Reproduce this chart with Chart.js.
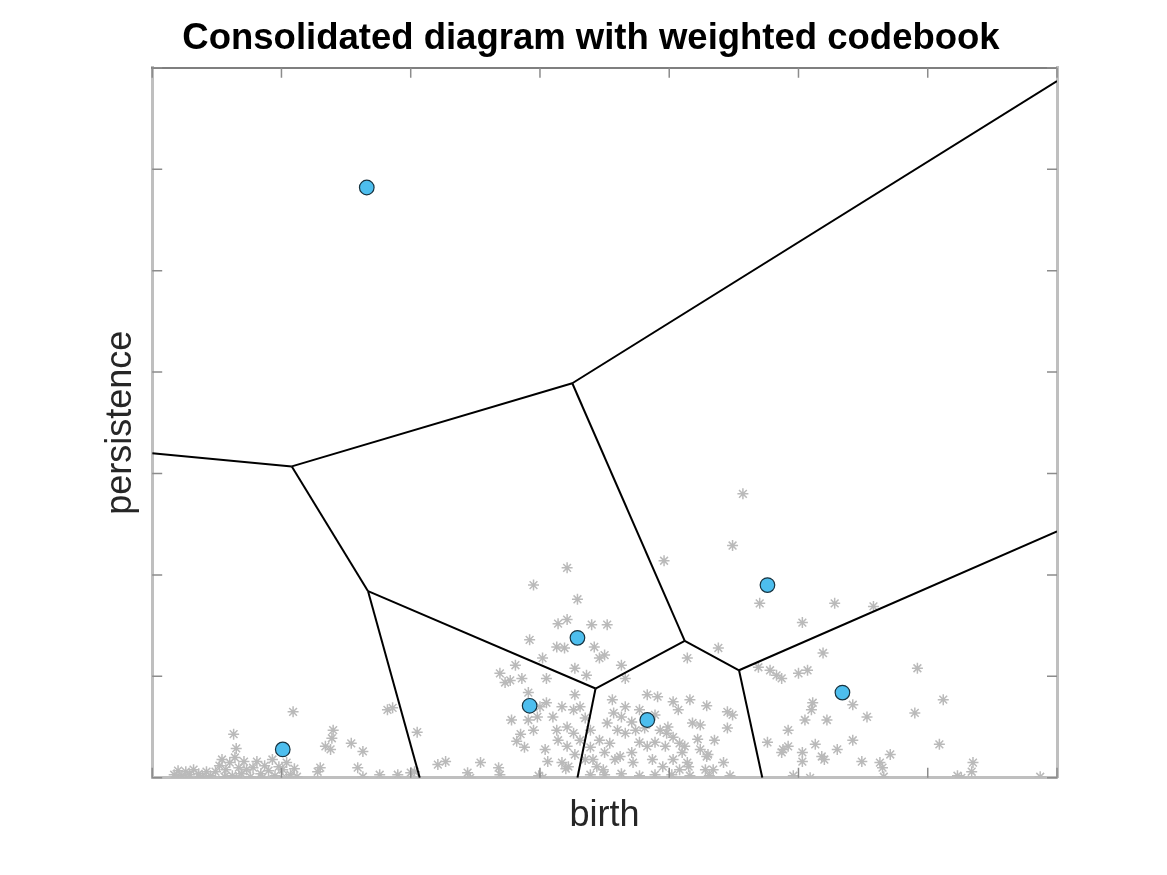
<!DOCTYPE html>
<html>
<head>
<meta charset="utf-8">
<script src="https://cdn.jsdelivr.net/npm/chart.js@4.4.1/dist/chart.umd.min.js"></script>
<style>
  html, body { margin: 0; padding: 0; background: #ffffff; }
  canvas { display: block; }
</style>
</head>
<body>
<canvas id="chart0" width="1167" height="875"></canvas>
<script>
// persistence diagram (grey asterisks)
const starBirth =
[
  0.17, 0.20, 0.23, 0.26, 0.29, 0.32, 0.36, 0.39, 0.42, 0.45, 0.19, 0.28, 0.37,
  0.49, 0.52, 0.54, 0.57, 0.60, 0.62, 0.64, 0.67, 0.69, 0.71, 0.73, 0.76, 0.56, 0.65,
  0.78, 0.81, 0.84, 0.87, 0.90, 0.93, 0.95, 0.98, 1.01, 1.04, 1.07, 1.10, 1.12, 0.85, 1.04,
  0.63, 0.65, 1.09,
  1.40, 1.39, 1.34, 1.38, 1.54, 1.63, 1.30, 1.28, 1.59, 1.63, 1.82, 1.86, 2.05, 1.76, 1.90, 2.00, 2.03, 2.21,
  2.27, 2.54, 2.68, 2.44, 2.99, 2.69, 2.46, 3.02, 3.20,
  3.21, 2.95, 3.29, 3.14, 3.21, 3.40, 3.52, 2.92, 3.13, 3.19, 3.42, 3.02, 3.46, 3.50, 3.63, 2.81,
  2.69, 2.73, 2.77, 2.86, 3.05, 3.27, 3.36, 3.66, 3.83, 3.91, 4.03, 4.14, 4.38, 4.29, 4.45, 4.49,
  4.24, 4.45, 4.22, 2.78, 3.00, 3.05, 2.85, 2.82, 2.88, 3.04, 3.13, 3.21, 3.26, 3.31, 3.10, 3.26,
  3.21, 2.91, 2.91, 2.98, 2.95, 3.27, 3.17,
  3.57, 3.63, 3.66, 3.52, 3.60, 3.46, 3.54, 3.50, 3.41, 3.44, 3.49, 3.62, 3.71, 3.72, 3.77, 3.83,
  3.87, 3.95, 4.03, 3.98, 4.03, 4.08, 4.14, 4.08, 4.29, 4.34, 4.42, 4.18, 3.71, 3.66, 3.74, 3.89,
  3.97, 3.99, 3.35, 3.58, 3.17, 3.22,
  3.35, 3.39, 3.31, 3.39, 3.14, 3.27, 3.06, 3.56, 3.77, 3.89, 3.93, 3.81, 4.16, 4.35, 4.24,
  3.39, 3.50, 3.63, 3.77, 3.89, 4.02, 4.16, 4.31, 4.47,
  3.96, 4.57, 4.49, 4.07, 4.12, 4.10, 4.30, 4.28, 4.15, 4.76,
  4.70, 5.28, 5.58, 5.03, 5.19, 4.69, 4.78, 4.83, 4.87, 5.00, 5.07, 5.92, 5.42, 5.53, 5.90, 6.12,
  5.11, 5.10, 5.05, 5.22, 4.92, 4.88, 4.92, 4.87, 5.03, 5.03, 5.13, 5.18, 5.30, 5.42, 5.49, 5.63,
  5.65, 5.71, 6.09, 6.35, 6.34, 6.23, 6.87, 4.96, 5.09, 5.20, 5.66, 6.26
];
const starPersistence =
[
  0.03, 0.07, 0.02, 0.06, 0.03, 0.08, 0.04, 0.01, 0.06, 0.02, 0.00, 0.00, 0.00,
  0.06, 0.12, 0.18, 0.08, 0.15, 0.02, 0.20, 0.10, 0.04, 0.16, 0.08, 0.01, 0.01, 0.00,
  0.10, 0.16, 0.04, 0.12, 0.07, 0.18, 0.02, 0.11, 0.08, 0.15, 0.03, 0.09, 0.01, 0.00, 0.00,
  0.43, 0.29, 0.65,
  0.47, 0.39, 0.31, 0.28, 0.34, 0.26, 0.10, 0.06, 0.10, 0.01, 0.67, 0.69, 0.45, 0.03, 0.03, 0.05, 0.06, 0.13,
  0.16, 0.15, 0.10, 0.05, 0.02, 0.03, 0.00, 0.00, 0.09,
  2.07, 1.90, 1.76, 1.52, 1.56, 1.51, 1.51, 1.36, 1.29, 1.28, 1.29, 1.18, 1.18, 1.21, 1.11, 1.11,
  1.03, 0.94, 0.96, 0.98, 0.98, 1.08, 1.01, 0.98, 0.82, 0.80, 0.75, 1.18, 1.28, 0.71, 0.65, 0.62,
  0.52, 0.49, 0.38, 0.57, 0.70, 0.74, 0.43, 0.36, 0.30, 0.28, 0.47, 0.50, 0.67, 0.70, 0.60, 0.44,
  0.31, 0.84, 0.57, 0.60, 0.47, 0.82, 0.70,
  0.64, 0.60, 0.70, 0.54, 0.47, 0.37, 0.34, 0.25, 0.18, 0.11, 0.08, 0.21, 0.25, 0.15, 0.35, 0.31,
  0.18, 0.11, 0.18, 0.44, 0.40, 0.34, 0.15, 0.08, 0.21, 0.08, 0.15, 0.54, 0.55, 0.44, 0.47, 0.35,
  0.31, 0.50, 0.18, 0.18, 0.15, 0.11,
  0.59, 0.47, 0.37, 0.30, 0.37, 0.23, 0.16, 0.77, 0.67, 0.62, 0.47, 0.49, 0.77, 0.37, 0.28,
  0.03, 0.03, 0.04, 0.02, 0.03, 0.03, 0.02, 0.02, 0.02,
  2.14, 2.80, 2.29, 0.67, 0.31, 0.25, 0.23, 0.08, 0.11, 0.35,
  1.72, 1.72, 1.69, 1.53, 1.23, 1.09, 1.06, 1.01, 0.98, 1.03, 1.06, 1.08, 0.72, 0.60, 0.64, 0.77,
  0.74, 0.67, 0.57, 0.57, 0.47, 0.28, 0.31, 0.25, 0.25, 0.16, 0.33, 0.21, 0.28, 0.37, 0.16, 0.15,
  0.10, 0.23, 0.33, 0.15, 0.06, 0.02, 0.01, 0.02, 0.00, 0.18, 0.01, 0.00
];

// weighted codebook (blue circles)
const codeBirth = [1.66, 1.01, 2.92, 3.29, 3.83, 4.76, 5.34];
const codePersistence = [5.82, 0.28, 0.71, 1.38, 0.57, 1.90, 0.84];

// cell boundaries: [birth1, pers1, birth2, pers2]
const cellEdges =
[
  [0.00, 3.20, 1.08, 3.07],
  [1.08, 3.07, 3.25, 3.89],
  [3.25, 3.89, 7.00, 6.87],
  [1.08, 3.07, 1.67, 1.84],
  [1.67, 1.84, 2.07, 0.00],
  [1.67, 1.84, 3.43, 0.88],
  [3.43, 0.88, 3.29, 0.00],
  [3.43, 0.88, 4.12, 1.35],
  [3.25, 3.89, 4.12, 1.35],
  [4.12, 1.35, 4.54, 1.06],
  [4.54, 1.06, 7.00, 2.43],
  [4.54, 1.06, 4.72, 0.00]
];

const axisMin = 0;
const axisMax = 7;
const fontFamily = '"Liberation Sans", Arial, Helvetica, sans-serif';
const labelColour = '#262626';
const tickColour = '#8c8c8c';
const tickLen = 10;

let datasets = [];
datasets.push(
{
  label: 'codebook',
  data: codeBirth.map((b, i) => ({x: b, y: codePersistence[i]})),
  pointStyle: 'circle',
  pointRadius: 7.3,
  pointBackgroundColor: '#4dbeee',
  pointBorderColor: '#17323f',
  pointBorderWidth: 1.2
});
for (let i = 0; i < cellEdges.length; i++)
{
  let e = cellEdges[i];
  datasets.push(
  {
    label: 'edge' + i,
    data: [{x: e[0], y: e[1]}, {x: e[2], y: e[3]}],
    showLine: true,
    borderColor: '#000000',
    borderWidth: 2,
    pointRadius: 0
  });
}
datasets.push(
{
  label: 'diagram',
  data: starBirth.map((b, i) => ({x: b, y: starPersistence[i]})),
  pointStyle: 'star',
  pointRadius: 5.5,
  pointBorderColor: '#bababa',
  pointBackgroundColor: '#bababa',
  pointBorderWidth: 1.5
});

// matlab style ticks pointing into the box
const innerTicks =
{
  id: 'innerTicks',
  afterDraw(chart)
  {
    const ctx = chart.ctx;
    const a = chart.chartArea;
    const sx = chart.scales.x;
    const sy = chart.scales.y;
    ctx.save();
    ctx.strokeStyle = tickColour;
    ctx.lineWidth = 1.5;
    ctx.beginPath();
    for (const t of sx.ticks)
    {
      const px = sx.getPixelForValue(t.value);
      ctx.moveTo(px, a.bottom);
      ctx.lineTo(px, a.bottom - tickLen);
      ctx.moveTo(px, a.top);
      ctx.lineTo(px, a.top + tickLen);
    }
    for (const t of sy.ticks)
    {
      const py = sy.getPixelForValue(t.value);
      ctx.moveTo(a.left, py);
      ctx.lineTo(a.left + tickLen, py);
      ctx.moveTo(a.right, py);
      ctx.lineTo(a.right - tickLen, py);
    }
    ctx.stroke();
    ctx.restore();
  }
};

function hiddenAxis(position, colour, width)
{
  return {
    type: 'linear',
    position: position,
    min: axisMin,
    max: axisMax,
    ticks: {display: false, stepSize: 1},
    grid: {drawOnChartArea: false, drawTicks: false},
    border: {color: colour, width: width}
  };
}

let scaleX = hiddenAxis('bottom', '#bfbfbf', 3);
scaleX.title = {display: true, text: 'birth', color: labelColour, font: {family: fontFamily, size: 36}, padding: {top: 17, bottom: 0}};
let scaleY = hiddenAxis('left', '#bfbfbf', 3);
scaleY.title = {display: true, text: 'persistence', color: labelColour, font: {family: fontFamily, size: 36}, padding: {top: 14, bottom: 10}};
let scaleX2 = hiddenAxis('top', '#7f7f7f', 2);
let scaleY2 = hiddenAxis('right', '#bfbfbf', 3);
// spacer on the right so the title sits where matlab put it
scaleY2.grid = {drawOnChartArea: false, drawTicks: true, tickLength: 40, color: 'rgba(0,0,0,0)'};

new Chart(document.getElementById('chart0'),
{
  type: 'scatter',
  data: {datasets: datasets},
  options:
  {
    responsive: false,
    animation: false,
    devicePixelRatio: 1,
    layout: {padding: {left: 85, right: 70, top: 0, bottom: 37}},
    scales: {x: scaleX, y: scaleY, x2: scaleX2, y2: scaleY2},
    plugins:
    {
      legend: {display: false},
      tooltip: {enabled: false},
      title:
      {
        display: true,
        text: 'Consolidated diagram with weighted codebook',
        color: '#000000',
        font: {family: fontFamily, size: 36.5, weight: 'bold'},
        padding: {top: 17, bottom: 7}
      }
    }
  },
  plugins: [innerTicks]
});
</script>
</body>
</html>
